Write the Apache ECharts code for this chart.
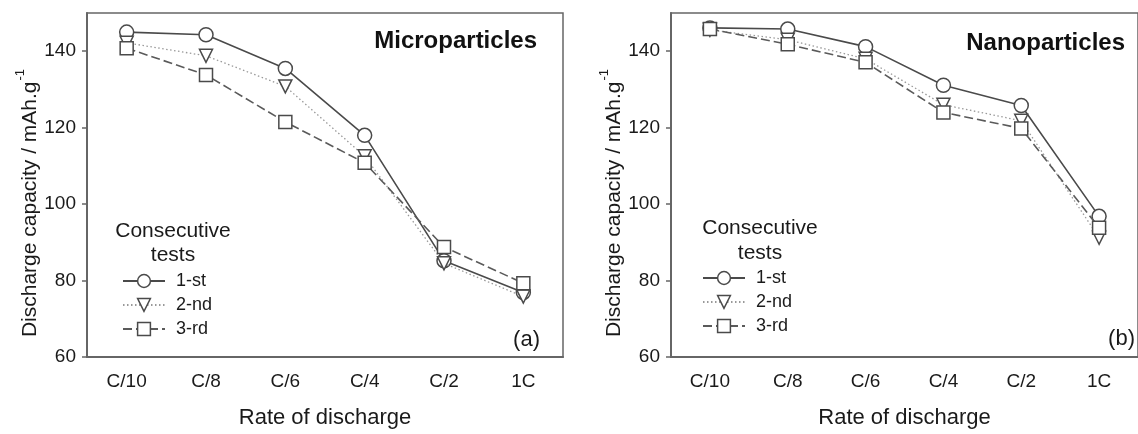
<!DOCTYPE html>
<html>
<head>
<meta charset="utf-8">
<script src="https://cdn.jsdelivr.net/npm/echarts@6/dist/echarts.min.js"></script>
<style>html,body{margin:0;padding:0;background:#fff}#c{width:1138px;height:434px}</style>
</head>
<body>
<div id="c"></div>
<script>
const categories = ['C/10', 'C/8', 'C/6', 'C/4', 'C/2', '1C'];
const seriesNames = ['1-st', '2-nd', '3-rd'];
const micro1 = [145.0, 144.3, 135.5, 118.0, 85.2, 76.9];
const micro2 = [142.2, 138.8, 130.8, 112.5, 84.5, 75.8];
const micro3 = [140.8, 133.8, 121.5, 110.8, 88.8, 79.3];
const nano1 = [146.1, 145.8, 141.2, 131.1, 125.8, 96.8];
const nano2 = [145.6, 143.0, 138.0, 126.0, 121.8, 91.2];
const nano3 = [145.8, 141.8, 137.1, 124.0, 119.8, 93.8];
const yTicks = [60, 80, 100, 120, 140];
const panelTitles = ['Microparticles', 'Nanoparticles'];
const panelTags = ['(a)', '(b)'];
const legendTitle = ['Consecutive', 'tests'];

const FONT = 'Liberation Sans, Arial, sans-serif';
const AX = '#666';
const TXT = '#1a1a1a';

const styles = [
  { line: { color: '#4a4a4a', width: 1.6, type: 'solid' }, symbol: 'circle', size: 14, rotate: 0 },
  { line: { color: '#999', width: 1.3, type: [1.5, 2.5] }, symbol: 'triangle', size: 13, rotate: 180 },
  { line: { color: '#5a5a5a', width: 1.6, type: [9, 4] }, symbol: 'rect', size: 13, rotate: 0 }
];

const grids = [
  { left: 87, top: 13, width: 476, height: 350 },
  { left: 671, top: 13, width: 476, height: 350 }
];

function xAxis(i) {
  return {
    type: 'category', gridIndex: i, data: categories, boundaryGap: true,
    axisLine: { lineStyle: { color: AX, width: 2 } },
    axisTick: { alignWithLabel: true, length: 5, lineStyle: { color: AX, width: 1.5 } },
    axisLabel: { color: TXT, fontFamily: FONT, fontSize: 19, margin: 15 },
    name: 'Rate of discharge', nameLocation: 'middle', nameGap: 50,
    nameTextStyle: { color: TXT, fontFamily: FONT, fontSize: 22 },
    splitLine: { show: false }
  };
}
function yAxis(i) {
  return {
    type: 'value', gridIndex: i, min: 60, max: 150, interval: 20,
    axisLine: { show: true, lineStyle: { color: AX, width: 2 } },
    axisTick: { show: true, length: 5, customValues: yTicks, lineStyle: { color: AX, width: 1.5 } },
    axisLabel: { color: TXT, fontFamily: FONT, fontSize: 19, margin: 11, customValues: yTicks },
    splitLine: { show: false },
    name: '{a|Discharge capacity / mAh.g}{b|-1}', nameLocation: 'middle', nameGap: 46, nameRotate: 90,
    nameTextStyle: {
      color: TXT, fontFamily: FONT, fontSize: 21, padding: [0, 36, 0, 0],
      rich: {
        a: { fontFamily: FONT, fontSize: 21, color: TXT, lineHeight: 26, verticalAlign: 'bottom' },
        b: { fontFamily: FONT, fontSize: 13, color: TXT, lineHeight: 26, verticalAlign: 'top', padding: [0, 0, 10, 1] }
      }
    }
  };
}

const dataSets = [[micro1, micro2, micro3], [nano1, nano2, nano3]];
const series = [];
dataSets.forEach((set, g) => {
  set.forEach((vals, k) => {
    const s = styles[k];
    series.push({
      type: 'line', name: seriesNames[k], xAxisIndex: g, yAxisIndex: g,
      data: vals, symbol: s.symbol, symbolSize: s.size, symbolRotate: s.rotate,
      lineStyle: s.line, itemStyle: { color: '#fff', borderColor: '#4a4a4a', borderWidth: 1.5 },
      emphasis: { disabled: true }, animation: false, z: 2 + k
    });
  });
});

const legendPos = [{ left: 117, top: 267 }, { left: 697, top: 264 }];
const legends = legendPos.map(p => ({
  orient: 'vertical', left: p.left, top: p.top, data: seriesNames,
  itemWidth: 42, itemHeight: 16, itemGap: 6,
  itemStyle: { borderWidth: 1.5 },
  textStyle: { color: TXT, fontFamily: FONT, fontSize: 18, padding: [0, 0, 0, 6] },
  selectedMode: false
}));

const titleCenters = [{ x: 173, y1: 231, y2: 255 }, { x: 760, y1: 228, y2: 253 }];
const panelPos = [{ x: 537, y: 41, tx: 540, ty: 340 }, { x: 1125, y: 43, tx: 1135, ty: 339 }];
const graphics = [];
titleCenters.forEach(t => {
  graphics.push({ type: 'text', x: t.x, y: t.y1, style: { text: legendTitle[0], fill: TXT, font: '21px ' + FONT, textAlign: 'center', textVerticalAlign: 'middle' } });
  graphics.push({ type: 'text', x: t.x, y: t.y2, style: { text: legendTitle[1], fill: TXT, font: '21px ' + FONT, textAlign: 'center', textVerticalAlign: 'middle' } });
});
panelPos.forEach((p, i) => {
  graphics.push({ type: 'text', x: p.x, y: p.y, style: { text: panelTitles[i], fill: '#111', font: 'bold 24px ' + FONT, textAlign: 'right', textVerticalAlign: 'middle' } });
  graphics.push({ type: 'text', x: p.tx, y: p.ty, style: { text: panelTags[i], fill: TXT, font: '22px ' + FONT, textAlign: 'right', textVerticalAlign: 'middle' } });
});

const chart = echarts.init(document.getElementById('c'), null, { renderer: 'canvas' });
chart.setOption({
  backgroundColor: '#fff',
  animation: false,
  grid: grids.map(g => Object.assign({ show: true, borderColor: AX, borderWidth: 1.5, backgroundColor: 'transparent', containLabel: false }, g)),
  xAxis: [xAxis(0), xAxis(1)],
  yAxis: [yAxis(0), yAxis(1)],
  legend: legends,
  series: series,
  graphic: graphics
});
</script>
</body>
</html>
